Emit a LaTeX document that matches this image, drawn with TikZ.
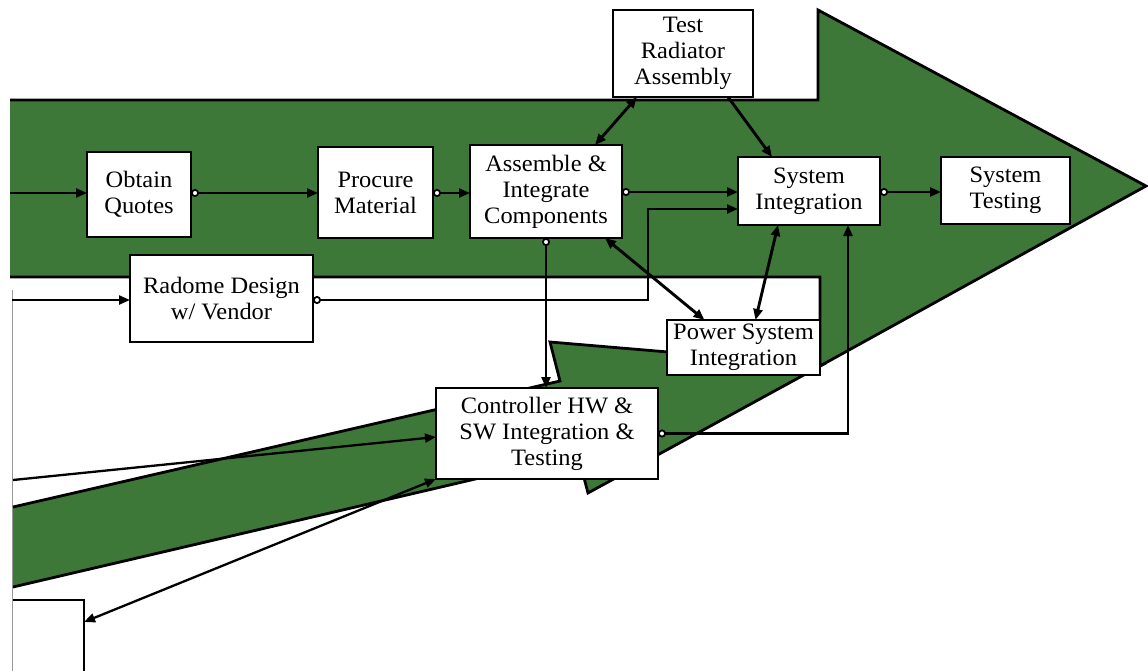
\documentclass[tikz,border=0pt]{standalone}
\usepackage{fontspec}
\setmainfont{Liberation Serif}[FakeStretch=1.04]
\usetikzlibrary{arrows.meta}
\definecolor{bandgreen}{RGB}{62,120,56}
\begin{document}
\begin{tikzpicture}[x=1pt,y=-1pt,
  task/.style={draw=black, line width=2.8pt, fill=white, align=center,
    inner sep=0pt, outer sep=0pt, font=\fontsize{23.5}{26}\selectfont},
  tip/.tip={Triangle[length=11pt,width=9pt]},
  ring/.tip={Circle[open,fill=white,length=8pt,width=8pt,line width=1.8pt]},
  flow/.style={line width=2.3pt, -tip},
  oflow/.style={line width=2.3pt, ring-tip},
  twoway/.style={line width=2.9pt, tip-tip},
  bandfill/.style={fill=bandgreen},
  bandline/.style={draw=black, line width=2.8pt, line join=miter},
]
\useasboundingbox (0,0) rectangle (1148,670);

% thin feeder line on the left margin
\draw[black!40, line width=1pt] (12,290) -- (12,680);

% lower (rising) arrow
\fill[bandfill] (13,507) -- (560,381) -- (550,342) -- (822,365) -- (588,493) -- (578,455) -- (13,587) -- cycle;
\draw[bandline] (13,507) -- (560,381) -- (550,342) -- (822,365) -- (588,493) -- (578,455) -- (13,587);

% main horizontal arrow
\fill[bandfill] (10,100) -- (818,100) -- (818,10) -- (1146,186) -- (820,366) -- (820,277) -- (10,277) -- cycle;
\draw[bandline] (10,100) -- (818,100) -- (818,10) -- (1146,186) -- (820,366) -- (820,277) -- (10,277);

% tasks
\node[task, minimum width=104pt, minimum height=85pt] (quotes) at (139,194.5) {Obtain\\Quotes};
\node[task, minimum width=115pt, minimum height=91pt] (procure) at (375.5,192.5) {Procure\\Material};
\node[task, minimum width=152pt, minimum height=93pt] (assemble) at (546,191.5) {Assemble \&\\Integrate\\Components};
\node[task, minimum width=140pt, minimum height=87pt] (radtest) at (683,53.5) {Test\\Radiator\\Assembly};
\node[task, minimum width=142pt, minimum height=68pt] (sysint) at (809,191) {System\\Integration};
\node[task, minimum width=129pt, minimum height=67pt] (systest) at (1005.5,190.5) {System\\Testing};
\node[task, minimum width=183pt, minimum height=87pt] (radome) at (221.5,298.5) {Radome Design\\w/ Vendor};
\node[task, minimum width=153pt, minimum height=55pt] (power) at (743.5,347.5) {Power System\\Integration};
\node[task, minimum width=222pt, minimum height=91pt] (ctrl) at (547,433.5) {Controller HW \&\\SW Integration \&\\Testing};
\node[fill=white, inner sep=0pt, outer sep=0pt, minimum width=71pt, minimum height=90pt] (stub) at (48.5,645) {};
\draw[line width=2.8pt] (stub.north west) -- (stub.north east) -- (stub.south east);

% entry points on the left
\coordinate (inQ) at (10,193);
\coordinate (inR) at (12,300);
\coordinate (inC) at (13,480);
\coordinate (radbend) at (648,209);

% connectors
\draw[flow] (inQ) -- (quotes.west |- inQ);
\draw[oflow] (quotes.east |- inQ) -- (procure.west |- inQ);
\draw[oflow] (procure.east |- inQ) -- (assemble.west |- inQ);
\draw[oflow] (assemble.east |- 0,192) -- (sysint.west |- 0,192);
\draw[oflow] (sysint.east |- 0,192) -- (systest.west |- 0,192);

\draw[twoway] ([xshift=49pt]assemble.north) -- ([xshift=-46pt]radtest.south);
\draw[flow, line width=2.9pt] ([xshift=45pt]radtest.south) -- ([xshift=-37pt]sysint.north);
\draw[oflow] (assemble.south) -- (assemble.south |- ctrl.north);
\draw[twoway] ([xshift=59pt]assemble.south) -- ([xshift=-39pt]power.north);
\draw[twoway] ([xshift=12pt]power.north) -- ([xshift=-31pt]sysint.south);

\draw[flow] (inR) -- (radome.west |- inR);
\draw[oflow] (radome.east |- inR) -| (radbend) -- (sysint.west |- radbend);

\draw[flow] (inC) -- ([yshift=-3.5pt]ctrl.west);
\draw[oflow] (ctrl.east) -| ([xshift=39pt]sysint.south);
\draw[twoway, line width=2.3pt] (ctrl.south west) -- ([yshift=23pt]stub.east);
\end{tikzpicture}
\end{document}
